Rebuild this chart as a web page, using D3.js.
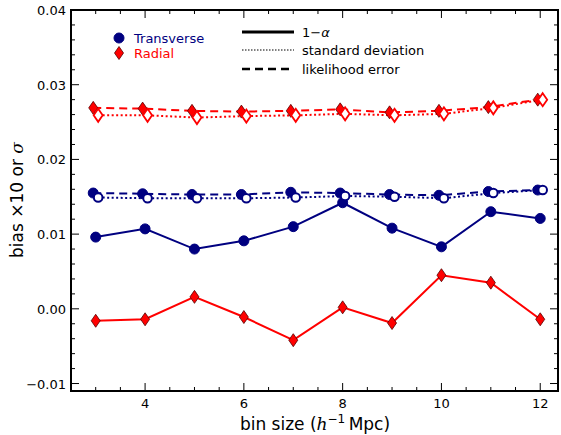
<!DOCTYPE html>
<html><head><meta charset="utf-8">
<script src="https://cdn.jsdelivr.net/npm/d3@7"></script>
<style>body{margin:0;background:#fff}svg{display:block}text{font-family:"DejaVu Sans",sans-serif}</style>
</head><body><svg id="c" width="561" height="435"></svg>
<script>
const binSizes = [3,4,5,6,7,8,9,10,11,12];
const transAlpha = [0.0096,0.0107,0.0080,0.0091,0.0110,0.0142,0.0108,0.0083,0.0130,0.0121];
const transLike  = [0.0155,0.0154,0.0153,0.0153,0.0156,0.0155,0.0153,0.0152,0.0157,0.0159];
const transStd   = [0.0149,0.0148,0.0148,0.0148,0.0149,0.0151,0.0150,0.0148,0.0155,0.0159];
const radAlpha   = [-0.0016,-0.0014,0.0016,-0.0011,-0.0042,0.0002,-0.0019,0.0045,0.0035,-0.0014];
const radLike    = [0.0269,0.0268,0.0265,0.0264,0.0265,0.0267,0.0263,0.0265,0.0270,0.0280];
const radStd     = [0.0259,0.0259,0.0256,0.0258,0.0259,0.0261,0.0259,0.0261,0.0269,0.0280];
const xTicks = [4,6,8,10,12];
const yTicks = [-0.01,0.00,0.01,0.02,0.03,0.04];

const svg = d3.select("#c");
const L=71,R=558,T=10,B=391;
const x = d3.scaleLinear().domain([2.5,12.36]).range([L,R]);
const y = d3.scaleLinear().domain([-0.011,0.04]).range([B,T]);
const navy="#000080", red="#ff0000";
const off=0.05;

const line = (dx)=>d3.line().x((d,i)=>x(binSizes[i]+dx)).y(d=>y(d));
function drawLine(vals,dx,color,dash){
  svg.append("path").attr("d",line(dx)(vals)).attr("fill","none")
    .attr("stroke",color).attr("stroke-width",2).attr("stroke-dasharray",dash||null);
}
const diamond = (cx,cy)=>`M${cx},${cy-6.5}L${cx+4.5},${cy}L${cx},${cy+6.5}L${cx-4.5},${cy}Z`;
function circles(vals,dx,fill){
  svg.append("g").selectAll("circle").data(vals).join("circle")
    .attr("cx",(d,i)=>x(binSizes[i]+dx)).attr("cy",d=>y(d)).attr("r",fill?5:4.3)
    .attr("fill",fill?navy:"#fff").attr("stroke",navy).attr("stroke-width",fill?1:2);
}
function diamonds(vals,dx,fill){
  svg.append("g").selectAll("path").data(vals).join("path")
    .attr("d",(d,i)=>diamond(x(binSizes[i]+dx),y(d)))
    .attr("fill",fill?red:"#fff").attr("stroke",fill?"#500":red).attr("stroke-width",fill?0.8:1.8);
}

drawLine(transAlpha,0,navy);
drawLine(transLike,-off,navy,"8,5");
drawLine(transStd,off,navy,"2,2.5");
drawLine(radAlpha,0,red);
drawLine(radLike,-off,red,"8,5");
drawLine(radStd,off,red,"2,2.5");
circles(transAlpha,0,true);
circles(transLike,-off,true);
circles(transStd,off,false);
diamonds(radAlpha,0,true);
diamonds(radLike,-off,true);
diamonds(radStd,off,false);

// axes frame
svg.append("rect").attr("x",L).attr("y",T).attr("width",R-L).attr("height",B-T)
  .attr("fill","none").attr("stroke","#000").attr("stroke-width",2);

// ticks (inward)
const g=svg.append("g").attr("stroke","#000").attr("stroke-width",1);
const xMinor=d3.range(3,12.01,0.5);
xMinor.forEach(v=>{
  const major = xTicks.includes(v);
  const len = major?8:4;
  g.append("line").attr("x1",x(v)).attr("x2",x(v)).attr("y1",B).attr("y2",B-len);
  g.append("line").attr("x1",x(v)).attr("x2",x(v)).attr("y1",T).attr("y2",T+len);
});
const yMinor=d3.range(-0.010,0.0401,0.002);
yMinor.forEach(v=>{
  const major = yTicks.some(t=>Math.abs(t-v)<1e-9);
  const len = major?8:4;
  g.append("line").attr("y1",y(v)).attr("y2",y(v)).attr("x1",L).attr("x2",L+len);
  g.append("line").attr("y1",y(v)).attr("y2",y(v)).attr("x1",R).attr("x2",R-len);
});

svg.append("g").selectAll("text").data(xTicks).join("text")
  .attr("x",d=>x(d)).attr("y",B+17).attr("text-anchor","middle")
  .attr("font-size",13).text(d=>d);
svg.append("g").selectAll("text").data(yTicks).join("text")
  .attr("x",L-5).attr("y",d=>y(d)+5).attr("text-anchor","end")
  .attr("font-size",13).text(d=>d3.format(".2f")(d).replace("-","\u2212"));

// axis labels
const xl=svg.append("text").attr("x",315).attr("y",430).attr("text-anchor","middle").attr("font-size",17);
xl.append("tspan").text("bin size (");
xl.append("tspan").attr("font-family","DejaVu Serif").attr("font-style","italic").text("h");
xl.append("tspan").attr("font-size",12).attr("dy",-7).text("\u22121");
xl.append("tspan").attr("dy",7).text("\u2009Mpc)");
const yl=svg.append("text").attr("transform","translate(23,200) rotate(-90)").attr("text-anchor","middle").attr("font-size",17);
yl.append("tspan").text("bias \u00d710 or ");
yl.append("tspan").attr("font-family","DejaVu Serif").attr("font-style","italic").text("\u03c3");

// legend markers
svg.append("circle").attr("cx",119).attr("cy",38).attr("r",5).attr("fill",navy).attr("stroke",navy);
svg.append("path").attr("d",diamond(119,53)).attr("fill",red).attr("stroke","#500").attr("stroke-width",0.8);
svg.append("text").attr("x",134).attr("y",43).attr("font-size",13).attr("fill",navy).text("Transverse");
svg.append("text").attr("x",134).attr("y",58).attr("font-size",13).attr("fill",red).text("Radial");

// legend lines
const ll=[{d:null,w:3,t:"1\u2212\u03b1",y:32,serif:true},{d:"1.5,1.5",w:1.2,t:"standard deviation",y:50},{d:"8,5",w:2.5,t:"likelihood error",y:69}];
ll.forEach(o=>{
  svg.append("line").attr("x1",242).attr("x2",294).attr("y1",o.y).attr("y2",o.y)
    .attr("stroke","#000").attr("stroke-width",o.w).attr("stroke-dasharray",o.d);
  const t=svg.append("text").attr("x",302).attr("y",o.y+5).attr("font-size",13);
  if(o.serif){t.attr("font-family","DejaVu Serif");t.append("tspan").text("1\u2212");t.append("tspan").attr("font-style","italic").text("\u03b1");}
  else t.text(o.t);
});
</script></body></html>
